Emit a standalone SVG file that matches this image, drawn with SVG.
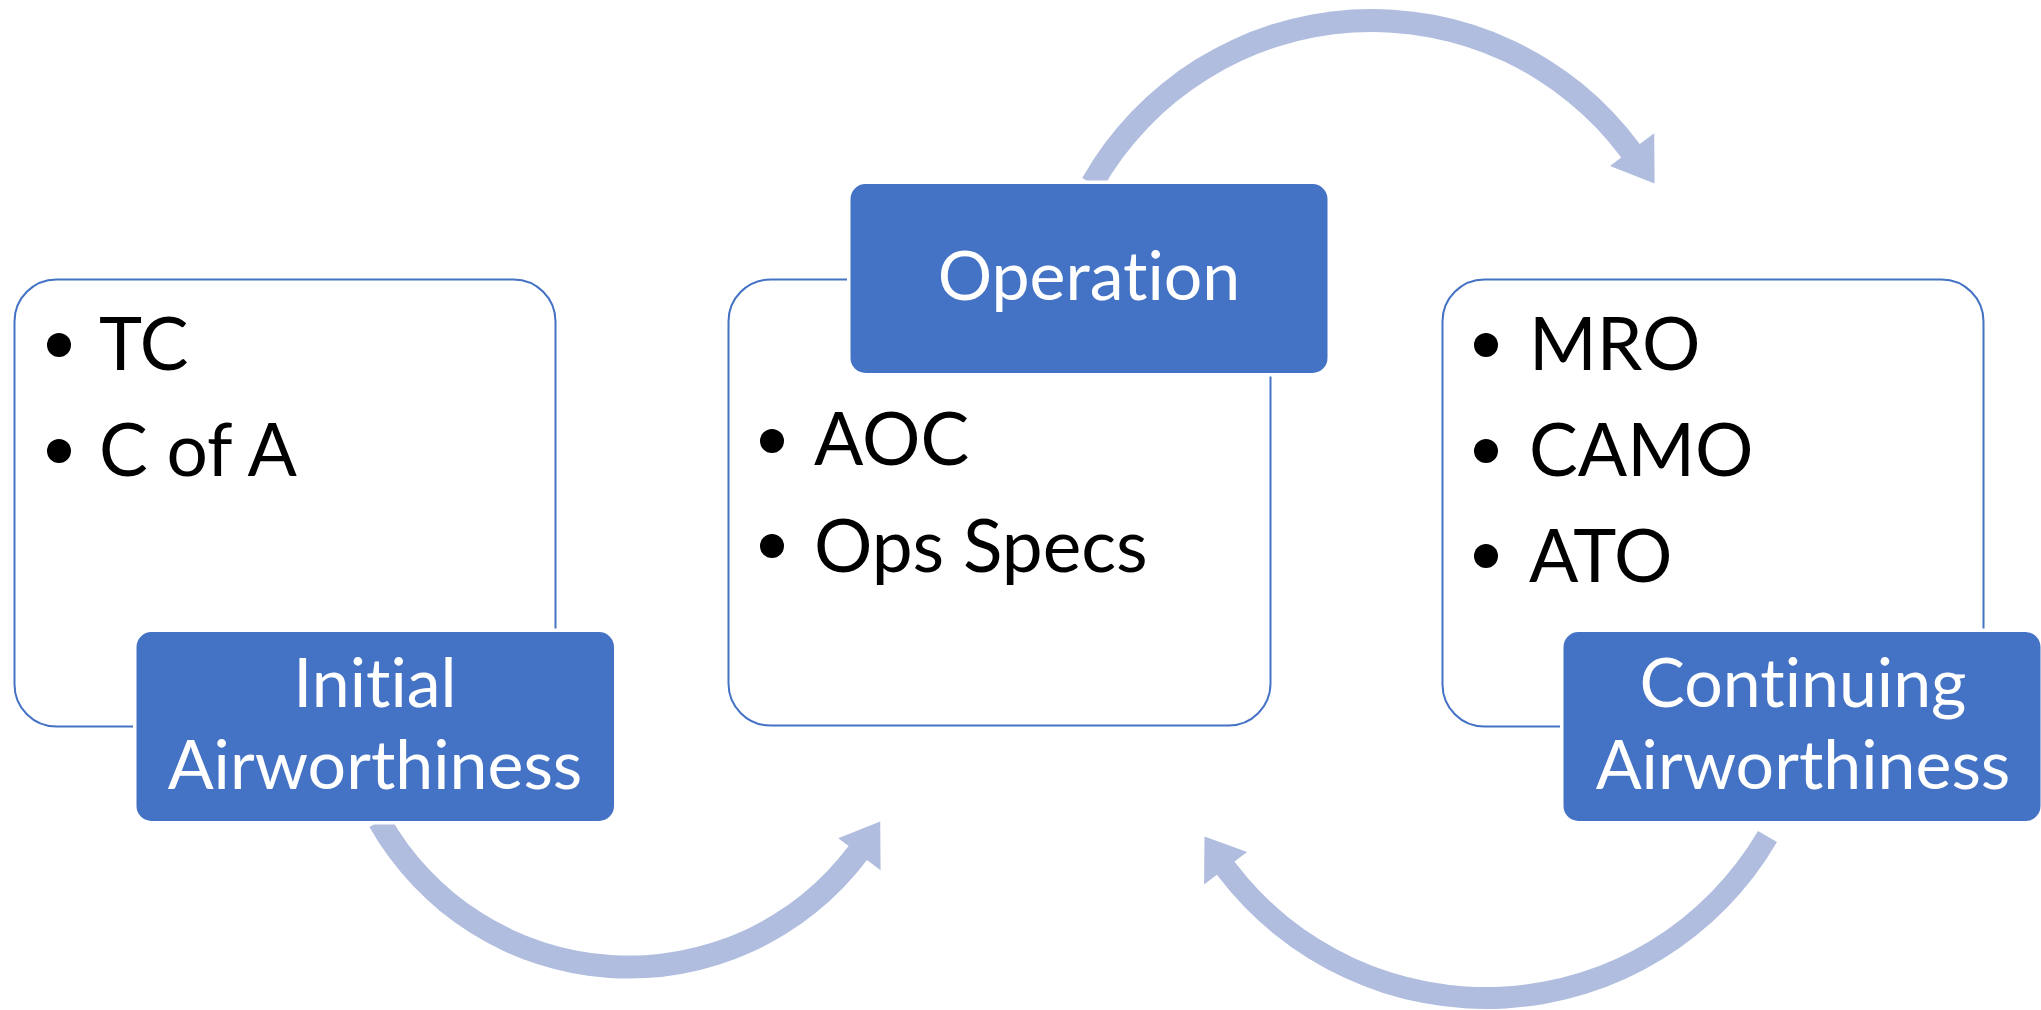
<svg xmlns="http://www.w3.org/2000/svg" width="2041" height="1010" viewBox="0 0 2041 1010">
<style>
.card{fill:#fff;stroke:#4472C4;stroke-width:2}
.label{fill:#4472C4;stroke:#fff;stroke-width:7;paint-order:stroke fill}
.lt{font-family:Lato,"Open Sans","Liberation Sans",sans-serif;fill:#fff;font-size:68px;text-anchor:middle;font-variant-ligatures:none;font-feature-settings:"liga" 0}
.bt{font-family:Lato,"Open Sans","Liberation Sans",sans-serif;fill:#000;font-size:73px;font-variant-ligatures:none;font-feature-settings:"liga" 0}
.dot{fill:#000}
.arrow{fill:#B0BDDF}
</style>
<rect width="2041" height="1010" fill="#fff"/>
<g id="connectors">
<path class="arrow" d="M1082.2,178.0 A333,333 0 0 1 1639.7,143.9 L1654.2,133.2 L1654.6,183.4 L1610.0,165.9 L1621.2,157.6 A310,310 0 0 0 1102.2,189.4 Z"/>
<path class="arrow" d="M369.4,826.9 A298,298 0 0 0 867.0,859.9 L880.6,870.2 L880.2,821.5 L838.2,838.3 L848.6,846.1 A275,275 0 0 1 389.4,815.6 Z"/>
<path class="arrow" d="M1777.0,842.0 A337,337 0 0 1 1216.9,874.8 L1204.1,884.4 L1204.5,836.5 L1247.2,851.9 L1234.4,861.6 A315,315 0 0 0 1758.0,830.9 Z"/>
</g>
<g id="initial">
<rect class="card" x="14.5" y="279.5" width="541" height="447" rx="42"/>
<circle class="dot" cx="59" cy="345" r="12"/>
<text class="bt" x="99" y="370">TC</text>
<circle class="dot" cx="59" cy="451" r="12"/>
<text class="bt" x="99" y="476">C of A</text>
<rect class="label" x="136.5" y="632" width="477.5" height="189" rx="15"/>
<text class="lt" x="375" y="707">Initial</text>
<text class="lt" x="375" y="789">Airworthiness</text>
</g>
<g id="operation">
<rect class="card" x="728.5" y="279.5" width="542" height="446" rx="42"/>
<circle class="dot" cx="772" cy="441" r="12"/>
<text class="bt" x="814" y="465">AOC</text>
<circle class="dot" cx="772" cy="546" r="12"/>
<text class="bt" x="814" y="572">Ops Specs</text>
<rect class="label" x="850.5" y="184" width="477" height="189" rx="15"/>
<text class="lt" x="1089" y="300">Operation</text>
</g>
<g id="continuing">
<rect class="card" x="1442.5" y="279.5" width="541" height="447" rx="42"/>
<circle class="dot" cx="1486" cy="345" r="12"/>
<text class="bt" x="1529" y="370">MRO</text>
<circle class="dot" cx="1486" cy="451" r="12"/>
<text class="bt" x="1529" y="476">CAMO</text>
<circle class="dot" cx="1486" cy="556" r="12"/>
<text class="bt" x="1529" y="582">ATO</text>
<rect class="label" x="1563.5" y="632" width="477" height="189" rx="15"/>
<text class="lt" x="1803" y="707">Continuing</text>
<text class="lt" x="1803" y="789">Airworthiness</text>
</g>
</svg>
